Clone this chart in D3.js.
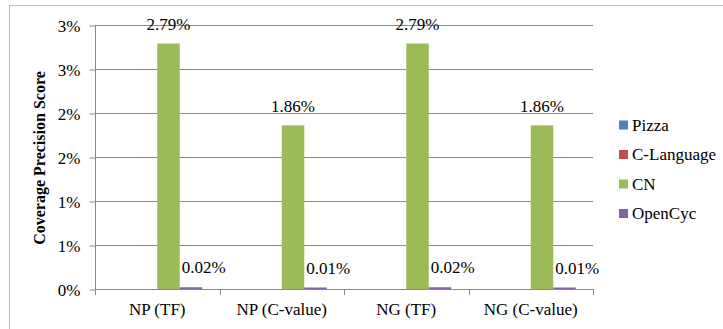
<!DOCTYPE html>
<html>
<head>
<meta charset="utf-8">
<script src="https://cdn.jsdelivr.net/npm/d3@7/dist/d3.min.js"></script>
<style>
  html, body { margin: 0; padding: 0; background: #fff; }
  svg { display: block; }
</style>
</head>
<body>
<svg id="chart" width="723" height="329"></svg>
<script>
// Coverage precision (%) per extraction method and ontology
const categories = ["NP (TF)", "NP (C-value)", "NG (TF)", "NG (C-value)"];
const seriesNames = ["Pizza", "C-Language", "CN", "OpenCyc"];
const pizza      = [0, 0, 0, 0];
const cLanguage  = [0, 0, 0, 0];
const cn         = [2.79, 1.86, 2.79, 1.86];
const openCyc    = [0.02, 0.01, 0.02, 0.01];
const seriesColors = ["#4F81BD", "#C0504D", "#9BBB59", "#8064A2"];
const yTicks = [0, 0.5, 1, 1.5, 2, 2.5, 3];
const yTickLabels = ["0%", "1%", "1%", "2%", "2%", "3%", "3%"];
// series that carry value labels
const labelled = { "CN": true, "OpenCyc": true };

const seriesValues = [pizza, cLanguage, cn, openCyc];
const FONT = "'Liberation Serif', 'Times New Roman', Times, serif";

const svg = d3.select("#chart")
  .attr("font-family", FONT)
  .style("font-family", FONT);

// outer chart frame
svg.append("rect")
  .attr("x", 9.5).attr("y", 5.5)
  .attr("width", 900).attr("height", 500)
  .attr("fill", "none").attr("stroke", "#bdbdbd").attr("stroke-width", 1);

const plot = { left: 95, right: 593, top: 25, bottom: 289 };

const y = d3.scaleLinear().domain([0, 3]).range([plot.bottom, plot.top]);
const x0 = d3.scaleBand().domain(categories)
  .range([plot.left, plot.right]).paddingInner(0.277).paddingOuter(0.1385);
const x1 = d3.scaleBand().domain(seriesNames).range([0, x0.bandwidth()]);

const g = svg.append("g");

// horizontal gridlines
g.selectAll("line.grid").data(yTicks).join("line")
  .attr("class", "grid")
  .attr("x1", plot.left).attr("x2", plot.right)
  .attr("y1", d => Math.round(y(d)) + 0.5).attr("y2", d => Math.round(y(d)) + 0.5)
  .attr("stroke", "#8a8a8a").attr("stroke-width", 1);

// y axis
const yAxis = d3.axisLeft(y).tickValues(yTicks)
  .tickFormat((d, i) => yTickLabels[i]).tickSize(6).tickPadding(9);
const ya = svg.append("g").attr("transform", `translate(${plot.left + 0.5},0.5)`).call(yAxis);
ya.attr("font-family", FONT).attr("font-size", 17);
ya.select(".domain").attr("stroke", "#8a8a8a").attr("d", `M0,${y(3)}V${y(0)}`);
ya.selectAll(".tick line").attr("stroke", "#8a8a8a");
ya.selectAll(".tick text")
  .style("font-family", FONT).style("font-size", "17px")
  .attr("fill", "#000").attr("dy", "0.34em");

// x axis: boundaries between categories carry the tick marks
const bounds = [0, 1, 2, 3, 4].map(i => plot.left + i * (plot.right - plot.left) / 4);
svg.selectAll("line.xtick").data(bounds).join("line")
  .attr("class", "xtick")
  .attr("x1", d => Math.round(d) + 0.5).attr("x2", d => Math.round(d) + 0.5)
  .attr("y1", plot.bottom).attr("y2", plot.bottom + 6)
  .attr("stroke", "#8a8a8a");

svg.selectAll("text.xlab").data(categories).join("text")
  .attr("class", "xlab")
  .attr("x", d => x0(d) + x0.bandwidth() / 2)
  .attr("y", 315)
  .attr("text-anchor", "middle")
  .style("font-size", "17px")
  .text(d => d);

// bars
const groups = g.selectAll("g.cat").data(categories).join("g")
  .attr("class", "cat")
  .attr("transform", d => `translate(${x0(d)},0)`);

groups.each(function(cat, ci) {
  const sel = d3.select(this);
  seriesNames.forEach((s, si) => {
    const v = seriesValues[si][ci];
    if (v > 0) {
      const h = Math.max(plot.bottom - y(v), 1.5);
      sel.append("rect")
        .attr("x", x1(s)).attr("width", x1.bandwidth())
        .attr("y", plot.bottom - h).attr("height", h)
        .attr("fill", seriesColors[si]);
    }
    if (labelled[s]) {
      const big = v >= 0.5;
      sel.append("text")
        .attr("x", big ? x1(s) + x1.bandwidth() / 2 : x1(s) + 2)
        .attr("y", y(v) - (big ? 13 : 14))
        .attr("text-anchor", big ? "middle" : "start")
        .style("font-size", "17px")
        .text(v.toFixed(2) + "%");
    }
  });
});

// axis title
svg.append("text")
  .attr("transform", "translate(45,158) rotate(-90)")
  .attr("text-anchor", "middle")
  .style("font-size", "16px").style("font-weight", "bold")
  .text("Coverage Precision Score");

// legend
const legend = svg.append("g").attr("transform", "translate(619,125)");
seriesNames.forEach((s, i) => {
  const row = legend.append("g").attr("transform", `translate(0,${i * 29.5})`);
  row.append("rect").attr("x", 0).attr("y", -4.5).attr("width", 9).attr("height", 9)
    .attr("fill", seriesColors[i]);
  row.append("text").attr("x", 13).attr("y", 0).attr("dy", "0.35em")
    .style("font-size", "17px").text(s);
});
</script>
</body>
</html>
